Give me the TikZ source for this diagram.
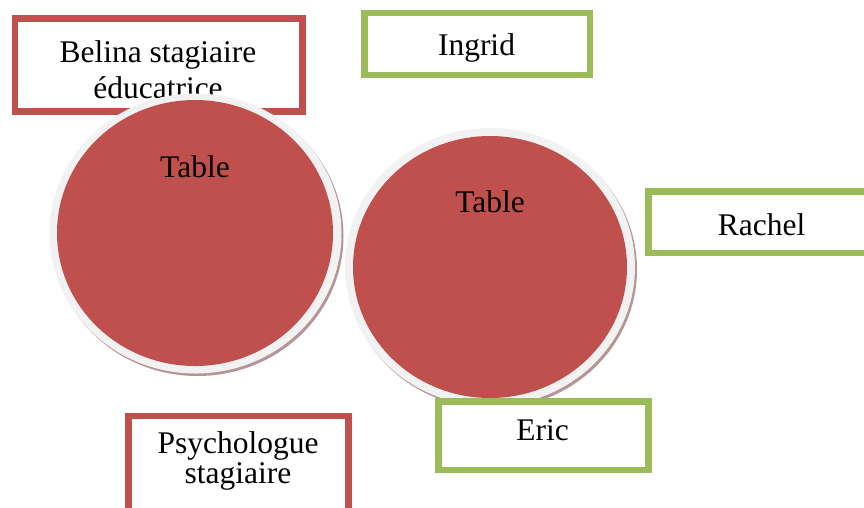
\documentclass[tikz,border=0pt]{standalone}
\usepackage{fontspec}
\setmainfont{Liberation Serif}
\usetikzlibrary{shapes.geometric}
\definecolor{boxred}{HTML}{C0504D}
\definecolor{boxgreen}{HTML}{9BBB59}
\definecolor{ringgrey}{HTML}{F2F2F2}
\definecolor{shadowcol}{HTML}{B59596}
\begin{document}
\begin{tikzpicture}[x=1pt,y=-1pt,
  redbox/.style={draw=boxred,line width=6.5pt,rectangle,inner sep=0pt,fill=white},
  greenbox/.style={draw=boxgreen,line width=6.5pt,rectangle,inner sep=0pt,fill=white},
  lbl/.style={anchor=base,inner sep=0pt,align=center,font=\fontsize{31.5}{36}\selectfont},
  tableshadow/.style={fill=shadowcol,draw=none},
  tablering/.style={fill=ringgrey,draw=none},
  tabletop/.style={fill=boxred,draw=none}]
\useasboundingbox (0,0) rectangle (864,507);
% boxes behind circles
\node[redbox,minimum width=287.5pt,minimum height=93pt] (belinabox) at (158.75,65) {};
\node[lbl] (belina) at (158,98) {Belina stagiaire\\éducatrice};
\node[greenbox,minimum width=225.5pt,minimum height=62pt] (ingridbox) at (477.25,44) {};
\node[lbl] (ingrid) at (476.5,55) {Ingrid};
\node[greenbox,minimum width=240pt,minimum height=61.5pt] (rachelbox) at (768.5,222.25) {};
\node[lbl] (rachel) at (761.5,235) {Rachel};
\node[redbox,minimum width=220pt,minimum height=110pt] (psybox) at (238.5,471) {};
\node[lbl,font=\fontsize{31.5}{30}\selectfont] (psy) at (238,483) {Psychologue\\stagiaire};
% left table
\fill[tableshadow] (197.5,236) ellipse [x radius=146pt, y radius=140pt];
\fill[tablering] (195.5,233.5) ellipse [x radius=146pt, y radius=140pt];
\node[tabletop,ellipse,minimum width=276pt,minimum height=266pt,inner sep=0pt] (table1) at (195,233) {};
\node[lbl] (table1lbl) at (195,177) {Table};
% right table
\fill[tableshadow] (492,269.5) ellipse [x radius=145pt, y radius=139pt];
\fill[tablering] (490,267) ellipse [x radius=145pt, y radius=139pt];
\node[tabletop,ellipse,minimum width=274pt,minimum height=262pt,inner sep=0pt] (table2) at (490,267) {};
\node[lbl] (table2lbl) at (490,212) {Table};
% Eric box on top
\node[greenbox,minimum width=210pt,minimum height=68.5pt] (ericbox) at (543.5,435.75) {};
\node[lbl] (eric) at (542.5,440) {Eric};
\end{tikzpicture}
\end{document}
